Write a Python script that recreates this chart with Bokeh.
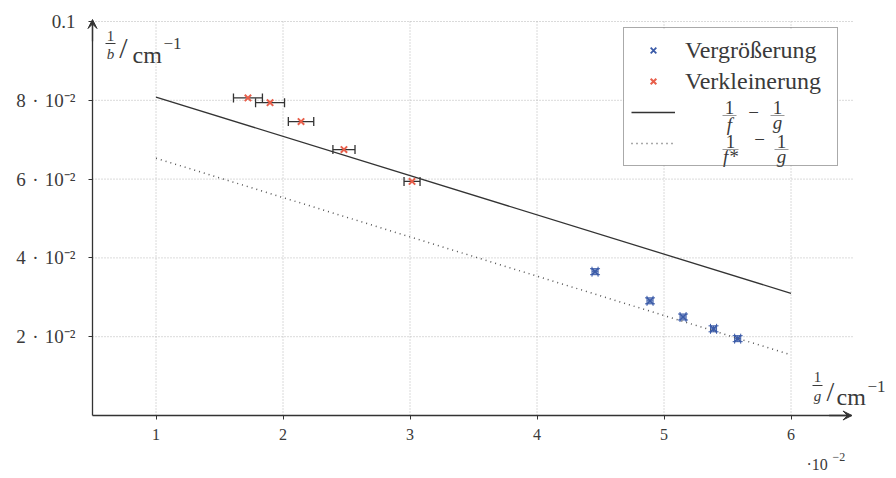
from bokeh.plotting import figure
from bokeh.models import (ColumnDataSource, Range1d, FixedTicker, Whisker, TeeHead,
                          VeeHead, Arrow, Label, Legend, LegendItem, BoxAnnotation)
from bokeh.embed import file_html
from bokeh.resources import INLINE

# ---------------- data ----------------
# Verkleinerung (red), x = 1/g in units of 1e-2 cm^-1, y = 1/b in cm^-1
verk_x = [1.724, 1.898, 2.142, 2.480, 3.016]
verk_y = [0.0806, 0.0794, 0.0746, 0.0675, 0.0594]
verk_xerr = [0.114, 0.114, 0.100, 0.087, 0.063]
# Vergrößerung (blue)
verg_x = [4.457, 4.890, 5.150, 5.390, 5.580]
verg_y = [0.0365, 0.0291, 0.0250, 0.0220, 0.0195]
verg_xerr = [0.024, 0.024, 0.024, 0.024, 0.024]
verg_yerr = [0.00076, 0.00076, 0.00076, 0.00076, 0.00076]
# lines 1/f - 1/g and 1/f* - 1/g
line_x = [1.0, 6.0]
theo_y = [0.0808, 0.0310]
corr_y = [0.0653, 0.0154]
# ticks
x_ticks = [1, 2, 3, 4, 5, 6]
y_ticks = [0.02, 0.04, 0.06, 0.08, 0.1]
y_tick_labels = ["2\u2004·\u200410⁻²", "4\u2004·\u200410⁻²", "6\u2004·\u200410⁻²",
                 "8\u2004·\u200410⁻²", "0.1"]
x_axis_range = (0.5, 6.5)
y_axis_range = (0.0, 0.1)

FONT = "Liberation Serif"
TXT = "#3a3a3a"
AX = "#333333"
BLUE = "#3b5ba8"
RED = "#e8604c"
GRID = "#b5b5b5"

W, H = 896, 478
PX_X = 127.0      # pixels per x unit
PX_Y = 3940.0     # pixels per y unit
X0_PX, Y0_PX = 92.0, 415.0   # pixel position of (0.5, 0)

x_start = x_axis_range[0] - X0_PX / PX_X
y_end = y_axis_range[0] + Y0_PX / PX_Y

p = figure(frame_width=W, frame_height=H,
           x_range=Range1d(x_start, x_start + W / PX_X),
           y_range=Range1d(y_end - H / PX_Y, y_end),
           output_backend="svg", toolbar_location=None, min_border=0)
p.outline_line_color = None
p.background_fill_color = "white"
p.xgrid.visible = False
p.ygrid.visible = False

# axes drawn inside the frame at fixed positions
p.xaxis.fixed_location = y_axis_range[0]
p.yaxis.fixed_location = x_axis_range[0]
p.xaxis.bounds = (x_axis_range[0], 6.48)
p.yaxis.bounds = y_axis_range
p.xaxis.ticker = FixedTicker(ticks=x_ticks)
p.yaxis.ticker = FixedTicker(ticks=y_ticks)
p.yaxis.major_label_overrides = {t: l for t, l in zip(y_ticks, y_tick_labels)}
p.xaxis.major_label_overrides = {t: str(t) for t in x_ticks}
for ax in (p.xaxis, p.yaxis):
    ax.axis_line_color = AX
    ax.axis_line_width = 1.3
    ax.major_tick_line_color = AX
    ax.major_tick_out = 4
    ax.major_tick_in = 0
    ax.minor_tick_line_color = None
    ax.major_label_text_font = FONT
    ax.major_label_text_color = TXT
p.yaxis.major_label_text_font_size = "19px"
p.xaxis.major_label_text_font_size = "16px"
p.yaxis.major_label_standoff = 13
p.xaxis.major_label_standoff = 9

# grid lines (dotted) from the tick lists, limited to the axis box
p.segment(x0=x_ticks, y0=[y_axis_range[0]] * len(x_ticks),
          x1=x_ticks, y1=[y_axis_range[1]] * len(x_ticks),
          line_color=GRID, line_dash="1 2", line_width=1, level="underlay")
p.segment(x0=[x_axis_range[0]] * len(y_ticks), y0=y_ticks,
          x1=[x_axis_range[1]] * len(y_ticks), y1=y_ticks,
          line_color=GRID, line_dash="1 2", line_width=1, level="underlay")

# lines
theo_r = p.line(line_x, theo_y, line_color=AX, line_width=1.3)
corr_r = p.line(line_x, corr_y, line_color="#555555", line_width=1.5, line_dash="1 4")

# error bars
src_r = ColumnDataSource(dict(x=verk_x, y=verk_y,
                              xl=[a - e for a, e in zip(verk_x, verk_xerr)],
                              xu=[a + e for a, e in zip(verk_x, verk_xerr)]))
p.add_layout(Whisker(source=src_r, base="y", lower="xl", upper="xu", dimension="width",
                     line_color=AX, line_width=1.3,
                     lower_head=TeeHead(size=9, line_color=AX, line_width=1.3),
                     upper_head=TeeHead(size=9, line_color=AX, line_width=1.3)))
src_b = ColumnDataSource(dict(x=verg_x, y=verg_y,
                              xl=[a - e for a, e in zip(verg_x, verg_xerr)],
                              xu=[a + e for a, e in zip(verg_x, verg_xerr)],
                              yl=[a - e for a, e in zip(verg_y, verg_yerr)],
                              yu=[a + e for a, e in zip(verg_y, verg_yerr)]))
p.add_layout(Whisker(source=src_b, base="y", lower="xl", upper="xu", dimension="width",
                     line_color=BLUE, line_width=1.0,
                     lower_head=TeeHead(size=10, line_color=BLUE, line_width=1.0),
                     upper_head=TeeHead(size=10, line_color=BLUE, line_width=1.0)))
p.add_layout(Whisker(source=src_b, base="x", lower="yl", upper="yu", dimension="height",
                     line_color=BLUE, line_width=1.0,
                     lower_head=TeeHead(size=10, line_color=BLUE, line_width=1.0),
                     upper_head=TeeHead(size=10, line_color=BLUE, line_width=1.0)))

blue_r = p.scatter(verg_x, verg_y, marker="x", size=9, line_color=BLUE, line_width=1.8)
red_r = p.scatter(verk_x, verk_y, marker="x", size=9, line_color=RED, line_width=2)

# axis arrow heads
p.add_layout(Arrow(end=VeeHead(size=9, fill_color=AX, line_color=AX, line_width=1),
                   x_start=0.5, y_start=0.095, x_end=0.5, y_end=0.1005,
                   line_color=AX, line_width=1.3))
p.add_layout(Arrow(end=VeeHead(size=9, fill_color=AX, line_color=AX, line_width=1),
                   x_start=6.3, y_start=0.0, x_end=6.48, y_end=0.0,
                   line_color=AX, line_width=1.3))


# --- helper annotations placed in page pixels ---
def dx(px):
    return x_start + px / PX_X


def dy(py):
    return y_end - py / PX_Y


# white backing of the legend box (covers the grid)
p.add_layout(BoxAnnotation(left=dx(623), right=dx(837), top=dy(29), bottom=dy(165),
                           fill_color="white", fill_alpha=1.0, line_color=None,
                           level="annotation"))

# legend (transparent background, so the math entries drawn below stay visible)
legend = Legend(items=[LegendItem(label="Vergrößerung", renderers=[blue_r]),
                       LegendItem(label="Verkleinerung", renderers=[red_r]),
                       LegendItem(label=" ", renderers=[theo_r]),
                       LegendItem(label=" ", renderers=[corr_r])],
                location=(623, H - 166), orientation="vertical",
                label_text_font=FONT, label_text_font_size="24px", label_text_color=TXT,
                glyph_width=44, glyph_height=20, label_height=30, label_width=145,
                label_standoff=10, spacing=1, padding=7, margin=0,
                border_line_color="#555555", border_line_width=1.5,
                background_fill_alpha=0.0)
p.add_layout(legend)


def txt(s, px, py, size, align="center", baseline="middle", italic=False):
    p.add_layout(Label(x=dx(px), y=dy(py), text=s, text_font=FONT,
                       text_font_size=f"{size}px", text_color=TXT,
                       text_align=align, text_baseline=baseline, level="overlay",
                       text_font_style="italic" if italic else "normal"))


def bar(px0, px1, py, color=TXT):
    p.add_layout(Arrow(end=None, start=None, x_start=dx(px0), y_start=dy(py),
                       x_end=dx(px1), y_end=dy(py), line_color=color, line_width=1,
                       level="overlay"))


def frac(num, den, px, py_num, py_den, py_bar, half, size, color=TXT):
    txt(num, px, py_num, size)
    txt(den, px, py_den, size, italic=True)
    bar(px - half, px + half, py_bar, color)


# y axis label: 1/b / cm^-1
frac("1", "b", 110, 35, 53, 43, 5, 15)
txt("/", 123, 47, 30)
txt("cm", 132, 54, 24, align="left", baseline="alphabetic")
txt("−1", 163, 43, 17, align="left", baseline="alphabetic")

# x axis label: 1/g / cm^-1
frac("1", "g", 817, 376, 395, 385, 5, 15)
txt("/", 830, 391, 28)
txt("cm", 836, 396, 24, align="left", baseline="alphabetic")
txt("−1", 867, 386, 17, align="left", baseline="alphabetic")

# x axis multiplier
txt("·10", 806, 464, 16, align="left", baseline="alphabetic")
txt("−2", 832, 456, 12, align="left", baseline="alphabetic")

# legend math entries
frac("1", "f", 729, 107, 124, 115, 7, 19, color="#9a9a9a")
txt("−", 753, 112, 19)
frac("1", "g", 777, 107, 122, 115, 7, 19, color="#9a9a9a")

frac("1", "f*", 730, 141, 156, 149, 8, 19, color="#9a9a9a")
txt("−", 759, 139, 19)
frac("1", "g", 781, 141, 156, 149, 7, 19, color="#9a9a9a")

open("out.html", "w").write(file_html(p, INLINE))
